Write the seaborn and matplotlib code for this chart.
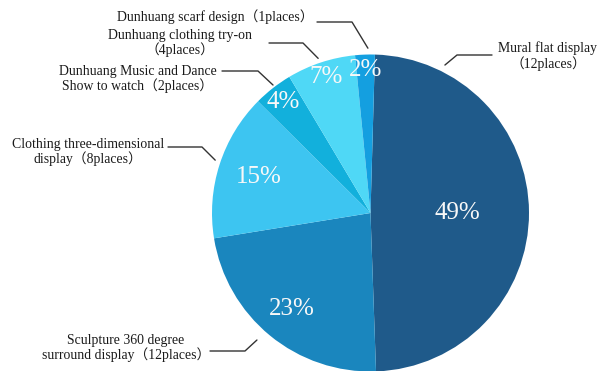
import matplotlib
matplotlib.use('Agg')
import matplotlib.pyplot as plt
import seaborn as sns
import numpy as np
from matplotlib.lines import Line2D

categories = ["Mural flat display\n（12places）",
              "Sculpture 360 degree\nsurround display（12places）",
              "Clothing three-dimensional\ndisplay（8places）",
              "Dunhuang Music and Dance\nShow to watch（2places）",
              "Dunhuang clothing try-on\n（4places）",
              "Dunhuang scarf design（1places）"]
percent = [49, 23, 15, 4, 7, 2]
colors = ["#1f5a8a", "#1a86be", "#3dc5f1", "#12b0dc", "#4fd8f6", "#149fe0"]

sns.set_theme(style='white')
plt.rcParams['font.family'] = ['Liberation Serif', 'Noto Sans CJK SC', 'DejaVu Sans']

W, H = 598, 371
fig = plt.figure(figsize=(W / 100, H / 100), dpi=100)
cx, cy, R = 370.5, 213, 158.5
ax = fig.add_axes([(cx - R) / W, (H - cy - R) / H, 2 * R / W, 2 * R / H])
wedges, texts, autotexts = ax.pie(percent, colors=colors, startangle=88.4,
                                  counterclock=False, autopct='%.0f%%', radius=1,
                                  wedgeprops=dict(linewidth=0),
                                  textprops=dict(color='#f8f8f8', fontsize=18))
ax.set_xlim(-1, 1)
ax.set_ylim(-1, 1)
ax.axis('off')
for w in wedges:
    w.set_clip_on(False)

# percentage label radial distances (layout)
pct_dist = [0.55, 0.78, 0.74, 0.89, 0.9, 0.9]
for w, t, d in zip(wedges, autotexts, pct_dist):
    a = np.deg2rad((w.theta1 + w.theta2) / 2)
    t.set_position((d * np.cos(a), d * np.sin(a)))
    t.set_clip_on(False)

# label layout: text center (px), tip angle/radius, elbow (px), end (px)
label_pos = [(548, 56), (126, 348), (88, 152), (138, 79), (180, 43), (215, 17)]
tip_ang = [63.3, 228.2, 161.2, 127.3, 108.7, 90.9]
tip_r = [1.045, 1.075, 1.035, 1.015, 1.03, 1.04]
elbows = [(457, 55), (245, 351), (202, 147), (258, 71), (303, 43), (352, 22)]
ends = [(492, 55), (210, 351), (168, 147), (222, 71), (269, 43), (317, 22)]

inv = fig.transFigure.inverted()
for lab, (tx, ty), ang, r, el, en in zip(categories, label_pos, tip_ang, tip_r, elbows, ends):
    a = np.deg2rad(ang)
    tip_disp = ax.transData.transform((r * np.cos(a), r * np.sin(a)))
    tip = inv.transform(tip_disp)
    xs = [tip[0], el[0] / W, en[0] / W]
    ys = [tip[1], 1 - el[1] / H, 1 - en[1] / H]
    fig.add_artist(Line2D(xs, ys, transform=fig.transFigure, color='#333333', lw=1))
    fig.text(tx / W, 1 - ty / H, lab, ha='center', va='center', fontsize=9.9,
             color='#1a1a1a', linespacing=1.05)

fig.savefig('out.png', dpi=100)
